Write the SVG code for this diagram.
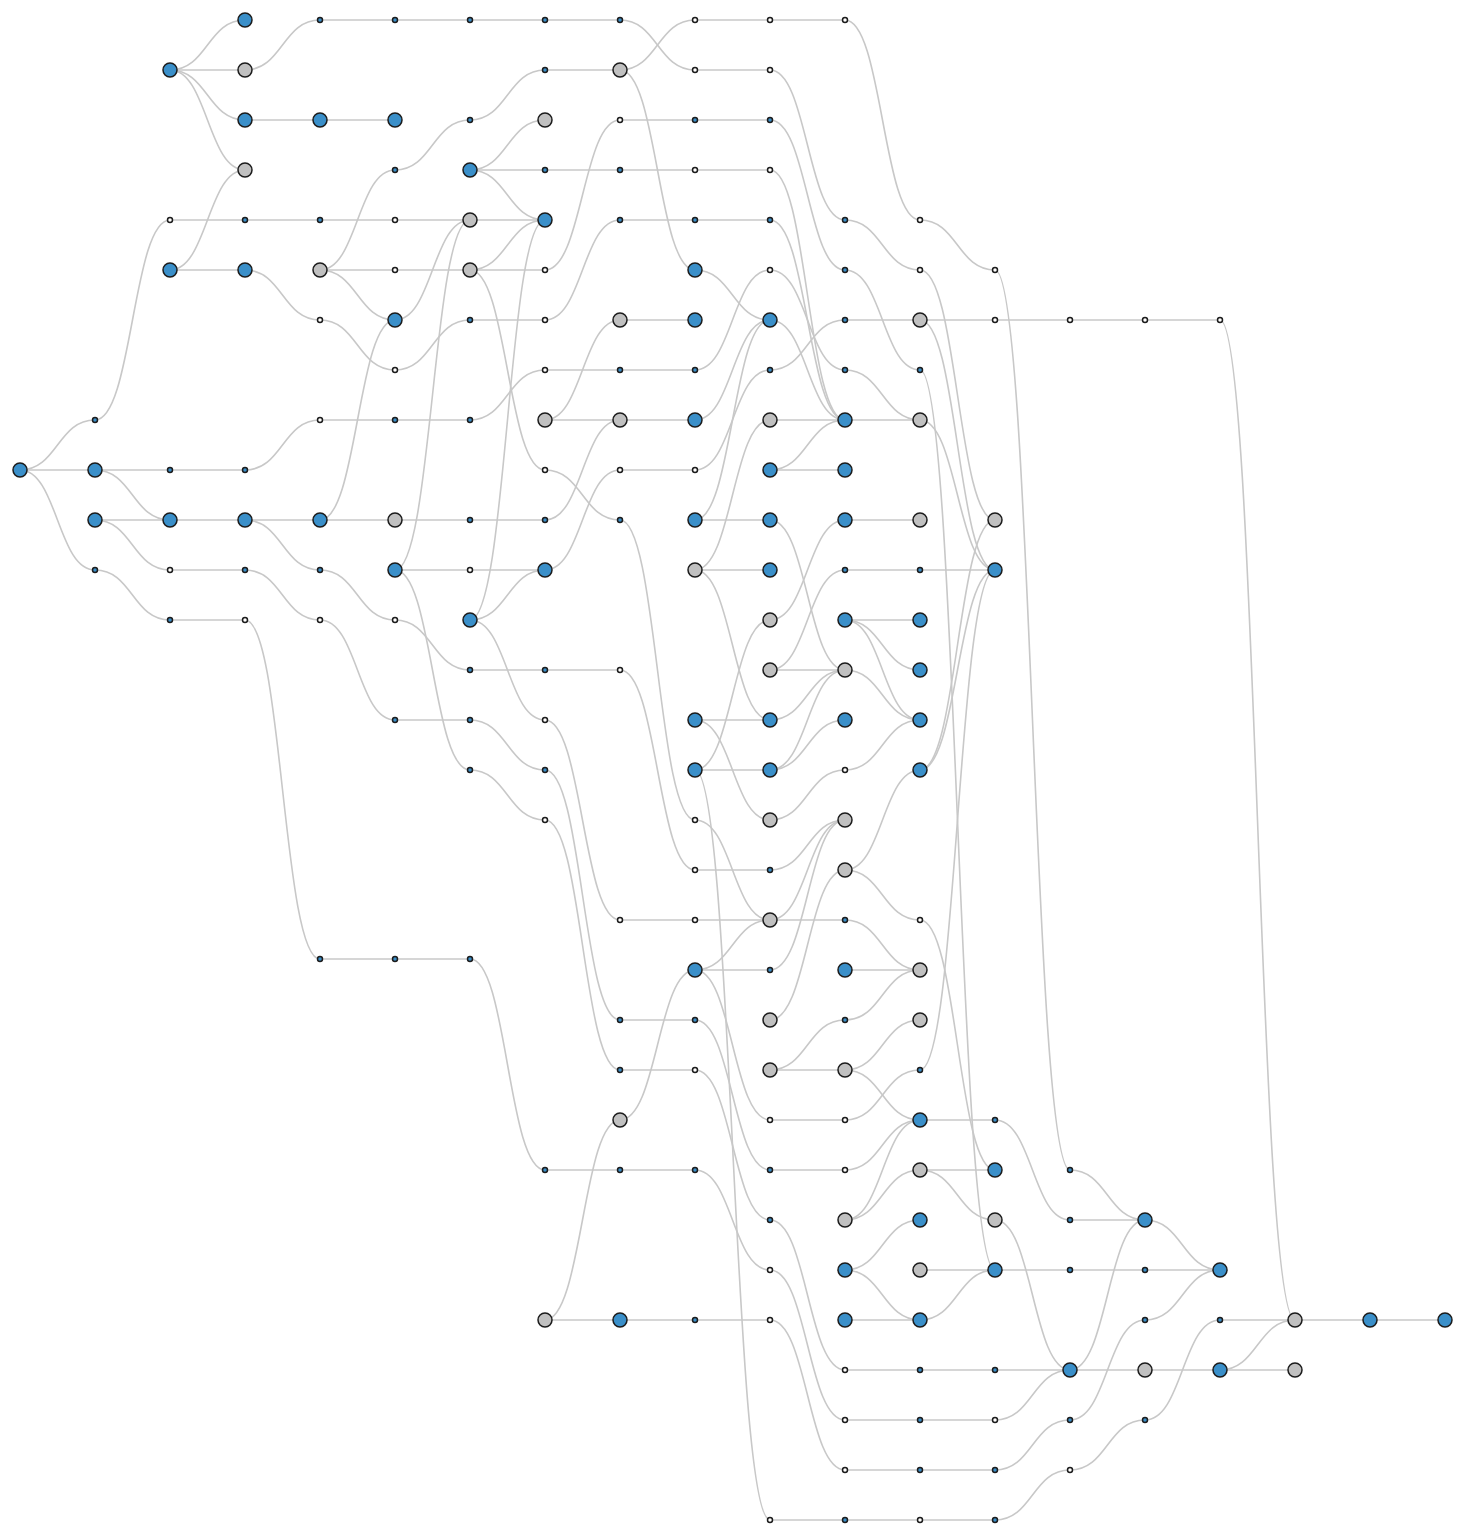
<svg xmlns="http://www.w3.org/2000/svg" width="1465" height="1540" viewBox="0 0 1465 1540">
<style>
.e path{fill:none;stroke:#c8c8c8;stroke-width:1.6}
.B{fill:#3a8fc9;stroke:#1c1c1c;stroke-width:1.5}
.G{fill:#c0c0c0;stroke:#1c1c1c;stroke-width:1.5}
.b{fill:#3a8fc9;stroke:#1c1c1c;stroke-width:1.5}
.w{fill:#ffffff;stroke:#1c1c1c;stroke-width:1.5}
</style>
<rect width="1465" height="1540" fill="#fff"/>
<g id="connectors" class="e">
<path d="M20 470C57.5 470 57.5 420 95 420"/>
<path d="M20 470H95"/>
<path d="M20 470C57.5 470 57.5 570 95 570"/>
<path d="M95 420C132.5 420 132.5 220 170 220"/>
<path d="M95 470H170"/>
<path d="M95 470C132.5 470 132.5 520 170 520"/>
<path d="M95 520H170"/>
<path d="M95 520C132.5 520 132.5 570 170 570"/>
<path d="M95 570C132.5 570 132.5 620 170 620"/>
<path d="M170 70C207.5 70 207.5 20 245 20"/>
<path d="M170 70H245"/>
<path d="M170 70C207.5 70 207.5 120 245 120"/>
<path d="M170 70C207.5 70 207.5 170 245 170"/>
<path d="M170 220H245"/>
<path d="M170 270C207.5 270 207.5 170 245 170"/>
<path d="M170 270H245"/>
<path d="M170 470H245"/>
<path d="M170 520H245"/>
<path d="M170 570H245"/>
<path d="M170 620H245"/>
<path d="M245 70C282.5 70 282.5 20 320 20"/>
<path d="M245 120H320"/>
<path d="M245 220H320"/>
<path d="M245 270C282.5 270 282.5 320 320 320"/>
<path d="M245 470C282.5 470 282.5 420 320 420"/>
<path d="M245 520H320"/>
<path d="M245 520C282.5 520 282.5 570 320 570"/>
<path d="M245 570C282.5 570 282.5 620 320 620"/>
<path d="M245 620C282.5 620 282.5 959 320 959"/>
<path d="M320 20H395"/>
<path d="M320 120H395"/>
<path d="M320 220H395"/>
<path d="M320 270C357.5 270 357.5 170 395 170"/>
<path d="M320 270H395"/>
<path d="M320 270C357.5 270 357.5 320 395 320"/>
<path d="M320 320C357.5 320 357.5 370 395 370"/>
<path d="M320 420H395"/>
<path d="M320 520C357.5 520 357.5 320 395 320"/>
<path d="M320 520H395"/>
<path d="M320 570C357.5 570 357.5 620 395 620"/>
<path d="M320 620C357.5 620 357.5 720 395 720"/>
<path d="M320 959H395"/>
<path d="M395 20H470"/>
<path d="M395 170C432.5 170 432.5 120 470 120"/>
<path d="M395 220H470"/>
<path d="M395 270H470"/>
<path d="M395 320C432.5 320 432.5 220 470 220"/>
<path d="M395 370C432.5 370 432.5 320 470 320"/>
<path d="M395 420H470"/>
<path d="M395 520H470"/>
<path d="M395 570C432.5 570 432.5 220 470 220"/>
<path d="M395 570H470"/>
<path d="M395 570C432.5 570 432.5 770 470 770"/>
<path d="M395 620C432.5 620 432.5 670 470 670"/>
<path d="M395 720H470"/>
<path d="M395 959H470"/>
<path d="M470 20H545"/>
<path d="M470 120C507.5 120 507.5 70 545 70"/>
<path d="M470 170C507.5 170 507.5 120 545 120"/>
<path d="M470 170H545"/>
<path d="M470 170C507.5 170 507.5 220 545 220"/>
<path d="M470 220H545"/>
<path d="M470 270C507.5 270 507.5 220 545 220"/>
<path d="M470 270H545"/>
<path d="M470 270C507.5 270 507.5 470 545 470"/>
<path d="M470 320H545"/>
<path d="M470 420C507.5 420 507.5 370 545 370"/>
<path d="M470 520H545"/>
<path d="M470 570H545"/>
<path d="M470 620C507.5 620 507.5 220 545 220"/>
<path d="M470 620C507.5 620 507.5 570 545 570"/>
<path d="M470 620C507.5 620 507.5 720 545 720"/>
<path d="M470 670H545"/>
<path d="M470 720C507.5 720 507.5 770 545 770"/>
<path d="M470 770C507.5 770 507.5 820 545 820"/>
<path d="M470 959C507.5 959 507.5 1170 545 1170"/>
<path d="M545 20H620"/>
<path d="M545 70H620"/>
<path d="M545 170H620"/>
<path d="M545 270C582.5 270 582.5 120 620 120"/>
<path d="M545 320C582.5 320 582.5 220 620 220"/>
<path d="M545 370H620"/>
<path d="M545 420C582.5 420 582.5 320 620 320"/>
<path d="M545 420H620"/>
<path d="M545 470C582.5 470 582.5 520 620 520"/>
<path d="M545 520C582.5 520 582.5 420 620 420"/>
<path d="M545 570C582.5 570 582.5 470 620 470"/>
<path d="M545 670H620"/>
<path d="M545 720C582.5 720 582.5 920 620 920"/>
<path d="M545 770C582.5 770 582.5 1020 620 1020"/>
<path d="M545 820C582.5 820 582.5 1070 620 1070"/>
<path d="M545 1170H620"/>
<path d="M545 1320C582.5 1320 582.5 1120 620 1120"/>
<path d="M545 1320H620"/>
<path d="M620 20C657.5 20 657.5 70 695 70"/>
<path d="M620 70C657.5 70 657.5 20 695 20"/>
<path d="M620 70C657.5 70 657.5 270 695 270"/>
<path d="M620 120H695"/>
<path d="M620 170H695"/>
<path d="M620 220H695"/>
<path d="M620 320H695"/>
<path d="M620 370H695"/>
<path d="M620 420H695"/>
<path d="M620 470H695"/>
<path d="M620 520C657.5 520 657.5 820 695 820"/>
<path d="M620 670C657.5 670 657.5 870 695 870"/>
<path d="M620 920H695"/>
<path d="M620 1020H695"/>
<path d="M620 1070H695"/>
<path d="M620 1120C657.5 1120 657.5 970 695 970"/>
<path d="M620 1170H695"/>
<path d="M620 1320H695"/>
<path d="M695 20H770"/>
<path d="M695 70H770"/>
<path d="M695 120H770"/>
<path d="M695 170H770"/>
<path d="M695 220H770"/>
<path d="M695 270C732.5 270 732.5 320 770 320"/>
<path d="M695 370C732.5 370 732.5 270 770 270"/>
<path d="M695 420C732.5 420 732.5 320 770 320"/>
<path d="M695 470C732.5 470 732.5 370 770 370"/>
<path d="M695 520C732.5 520 732.5 320 770 320"/>
<path d="M695 520H770"/>
<path d="M695 570C732.5 570 732.5 420 770 420"/>
<path d="M695 570H770"/>
<path d="M695 570C732.5 570 732.5 720 770 720"/>
<path d="M695 720H770"/>
<path d="M695 720C732.5 720 732.5 820 770 820"/>
<path d="M695 770C732.5 770 732.5 620 770 620"/>
<path d="M695 770H770"/>
<path d="M695 770C732.5 770 732.5 1520 770 1520"/>
<path d="M695 820C732.5 820 732.5 920 770 920"/>
<path d="M695 870H770"/>
<path d="M695 920H770"/>
<path d="M695 970C732.5 970 732.5 920 770 920"/>
<path d="M695 970H770"/>
<path d="M695 970C732.5 970 732.5 1120 770 1120"/>
<path d="M695 1020C732.5 1020 732.5 1170 770 1170"/>
<path d="M695 1070C732.5 1070 732.5 1220 770 1220"/>
<path d="M695 1170C732.5 1170 732.5 1270 770 1270"/>
<path d="M695 1320H770"/>
<path d="M770 20H845"/>
<path d="M770 70C807.5 70 807.5 220 845 220"/>
<path d="M770 120C807.5 120 807.5 270 845 270"/>
<path d="M770 170C807.5 170 807.5 420 845 420"/>
<path d="M770 220C807.5 220 807.5 420 845 420"/>
<path d="M770 270C807.5 270 807.5 370 845 370"/>
<path d="M770 320C807.5 320 807.5 420 845 420"/>
<path d="M770 370C807.5 370 807.5 320 845 320"/>
<path d="M770 420H845"/>
<path d="M770 470C807.5 470 807.5 420 845 420"/>
<path d="M770 470H845"/>
<path d="M770 520C807.5 520 807.5 670 845 670"/>
<path d="M770 620C807.5 620 807.5 520 845 520"/>
<path d="M770 670C807.5 670 807.5 570 845 570"/>
<path d="M770 670H845"/>
<path d="M770 720C807.5 720 807.5 670 845 670"/>
<path d="M770 770C807.5 770 807.5 670 845 670"/>
<path d="M770 770C807.5 770 807.5 720 845 720"/>
<path d="M770 820C807.5 820 807.5 770 845 770"/>
<path d="M770 870C807.5 870 807.5 820 845 820"/>
<path d="M770 920C807.5 920 807.5 820 845 820"/>
<path d="M770 920H845"/>
<path d="M770 970C807.5 970 807.5 820 845 820"/>
<path d="M770 1020C807.5 1020 807.5 870 845 870"/>
<path d="M770 1070C807.5 1070 807.5 1020 845 1020"/>
<path d="M770 1070H845"/>
<path d="M770 1120H845"/>
<path d="M770 1170H845"/>
<path d="M770 1220C807.5 1220 807.5 1370 845 1370"/>
<path d="M770 1270C807.5 1270 807.5 1420 845 1420"/>
<path d="M770 1320C807.5 1320 807.5 1470 845 1470"/>
<path d="M770 1520H845"/>
<path d="M845 20C882.5 20 882.5 220 920 220"/>
<path d="M845 220C882.5 220 882.5 270 920 270"/>
<path d="M845 270C882.5 270 882.5 370 920 370"/>
<path d="M845 320H920"/>
<path d="M845 370C882.5 370 882.5 420 920 420"/>
<path d="M845 420H920"/>
<path d="M845 520H920"/>
<path d="M845 570H920"/>
<path d="M845 620H920"/>
<path d="M845 620C882.5 620 882.5 670 920 670"/>
<path d="M845 620C882.5 620 882.5 720 920 720"/>
<path d="M845 670C882.5 670 882.5 720 920 720"/>
<path d="M845 770C882.5 770 882.5 720 920 720"/>
<path d="M845 870C882.5 870 882.5 770 920 770"/>
<path d="M845 870C882.5 870 882.5 920 920 920"/>
<path d="M845 920C882.5 920 882.5 970 920 970"/>
<path d="M845 970H920"/>
<path d="M845 1020C882.5 1020 882.5 970 920 970"/>
<path d="M845 1070C882.5 1070 882.5 1020 920 1020"/>
<path d="M845 1070C882.5 1070 882.5 1120 920 1120"/>
<path d="M845 1120C882.5 1120 882.5 1070 920 1070"/>
<path d="M845 1170C882.5 1170 882.5 1120 920 1120"/>
<path d="M845 1220C882.5 1220 882.5 1120 920 1120"/>
<path d="M845 1220C882.5 1220 882.5 1170 920 1170"/>
<path d="M845 1270C882.5 1270 882.5 1220 920 1220"/>
<path d="M845 1270C882.5 1270 882.5 1320 920 1320"/>
<path d="M845 1320H920"/>
<path d="M845 1370H920"/>
<path d="M845 1420H920"/>
<path d="M845 1470H920"/>
<path d="M845 1520H920"/>
<path d="M920 220C957.5 220 957.5 270 995 270"/>
<path d="M920 270C957.5 270 957.5 520 995 520"/>
<path d="M920 320H995"/>
<path d="M920 320C957.5 320 957.5 570 995 570"/>
<path d="M920 370C957.5 370 957.5 1270 995 1270"/>
<path d="M920 420C957.5 420 957.5 570 995 570"/>
<path d="M920 570H995"/>
<path d="M920 770C957.5 770 957.5 520 995 520"/>
<path d="M920 770C957.5 770 957.5 570 995 570"/>
<path d="M920 920C957.5 920 957.5 1170 995 1170"/>
<path d="M920 1070C957.5 1070 957.5 570 995 570"/>
<path d="M920 1120H995"/>
<path d="M920 1170H995"/>
<path d="M920 1170C957.5 1170 957.5 1220 995 1220"/>
<path d="M920 1270H995"/>
<path d="M920 1320C957.5 1320 957.5 1270 995 1270"/>
<path d="M920 1370H995"/>
<path d="M920 1420H995"/>
<path d="M920 1470H995"/>
<path d="M920 1520H995"/>
<path d="M995 270C1032.5 270 1032.5 1170 1070 1170"/>
<path d="M995 320H1070"/>
<path d="M995 1120C1032.5 1120 1032.5 1220 1070 1220"/>
<path d="M995 1220C1032.5 1220 1032.5 1370 1070 1370"/>
<path d="M995 1270H1070"/>
<path d="M995 1370H1070"/>
<path d="M995 1420C1032.5 1420 1032.5 1370 1070 1370"/>
<path d="M995 1470C1032.5 1470 1032.5 1420 1070 1420"/>
<path d="M995 1520C1032.5 1520 1032.5 1470 1070 1470"/>
<path d="M1070 320H1145"/>
<path d="M1070 1170C1107.5 1170 1107.5 1220 1145 1220"/>
<path d="M1070 1220H1145"/>
<path d="M1070 1270H1145"/>
<path d="M1070 1370C1107.5 1370 1107.5 1220 1145 1220"/>
<path d="M1070 1370H1145"/>
<path d="M1070 1420C1107.5 1420 1107.5 1320 1145 1320"/>
<path d="M1070 1470C1107.5 1470 1107.5 1420 1145 1420"/>
<path d="M1145 320H1220"/>
<path d="M1145 1220C1182.5 1220 1182.5 1270 1220 1270"/>
<path d="M1145 1270H1220"/>
<path d="M1145 1320C1182.5 1320 1182.5 1270 1220 1270"/>
<path d="M1145 1370H1220"/>
<path d="M1145 1420C1182.5 1420 1182.5 1320 1220 1320"/>
<path d="M1220 320C1257.5 320 1257.5 1320 1295 1320"/>
<path d="M1220 1320H1295"/>
<path d="M1220 1370C1257.5 1370 1257.5 1320 1295 1320"/>
<path d="M1220 1370H1295"/>
<path d="M1295 1320H1370"/>
<path d="M1370 1320H1445"/>
</g>
<g id="nodes">
<g id="n20-470"><circle class="B" cx="20" cy="470" r="7"/></g>
<g id="n95-420"><circle class="b" cx="95" cy="420" r="2.5"/></g>
<g id="n95-470"><circle class="B" cx="95" cy="470" r="7"/></g>
<g id="n95-520"><circle class="B" cx="95" cy="520" r="7"/></g>
<g id="n95-570"><circle class="b" cx="95" cy="570" r="2.5"/></g>
<g id="n170-70"><circle class="B" cx="170" cy="70" r="7"/></g>
<g id="n170-220"><circle class="w" cx="170" cy="220" r="2.5"/></g>
<g id="n170-270"><circle class="B" cx="170" cy="270" r="7"/></g>
<g id="n170-470"><circle class="b" cx="170" cy="470" r="2.5"/></g>
<g id="n170-520"><circle class="B" cx="170" cy="520" r="7"/></g>
<g id="n170-570"><circle class="w" cx="170" cy="570" r="2.5"/></g>
<g id="n170-620"><circle class="b" cx="170" cy="620" r="2.5"/></g>
<g id="n245-20"><circle class="B" cx="245" cy="20" r="7"/></g>
<g id="n245-70"><circle class="G" cx="245" cy="70" r="7"/></g>
<g id="n245-120"><circle class="B" cx="245" cy="120" r="7"/></g>
<g id="n245-170"><circle class="G" cx="245" cy="170" r="7"/></g>
<g id="n245-220"><circle class="b" cx="245" cy="220" r="2.5"/></g>
<g id="n245-270"><circle class="B" cx="245" cy="270" r="7"/></g>
<g id="n245-470"><circle class="b" cx="245" cy="470" r="2.5"/></g>
<g id="n245-520"><circle class="B" cx="245" cy="520" r="7"/></g>
<g id="n245-570"><circle class="b" cx="245" cy="570" r="2.5"/></g>
<g id="n245-620"><circle class="w" cx="245" cy="620" r="2.5"/></g>
<g id="n320-20"><circle class="b" cx="320" cy="20" r="2.5"/></g>
<g id="n320-120"><circle class="B" cx="320" cy="120" r="7"/></g>
<g id="n320-220"><circle class="b" cx="320" cy="220" r="2.5"/></g>
<g id="n320-270"><circle class="G" cx="320" cy="270" r="7"/></g>
<g id="n320-320"><circle class="w" cx="320" cy="320" r="2.5"/></g>
<g id="n320-420"><circle class="w" cx="320" cy="420" r="2.5"/></g>
<g id="n320-520"><circle class="B" cx="320" cy="520" r="7"/></g>
<g id="n320-570"><circle class="b" cx="320" cy="570" r="2.5"/></g>
<g id="n320-620"><circle class="w" cx="320" cy="620" r="2.5"/></g>
<g id="n320-959"><circle class="b" cx="320" cy="959" r="2.5"/></g>
<g id="n395-20"><circle class="b" cx="395" cy="20" r="2.5"/></g>
<g id="n395-120"><circle class="B" cx="395" cy="120" r="7"/></g>
<g id="n395-170"><circle class="b" cx="395" cy="170" r="2.5"/></g>
<g id="n395-220"><circle class="w" cx="395" cy="220" r="2.5"/></g>
<g id="n395-270"><circle class="w" cx="395" cy="270" r="2.5"/></g>
<g id="n395-320"><circle class="B" cx="395" cy="320" r="7"/></g>
<g id="n395-370"><circle class="w" cx="395" cy="370" r="2.5"/></g>
<g id="n395-420"><circle class="b" cx="395" cy="420" r="2.5"/></g>
<g id="n395-520"><circle class="G" cx="395" cy="520" r="7"/></g>
<g id="n395-570"><circle class="B" cx="395" cy="570" r="7"/></g>
<g id="n395-620"><circle class="w" cx="395" cy="620" r="2.5"/></g>
<g id="n395-720"><circle class="b" cx="395" cy="720" r="2.5"/></g>
<g id="n395-959"><circle class="b" cx="395" cy="959" r="2.5"/></g>
<g id="n470-20"><circle class="b" cx="470" cy="20" r="2.5"/></g>
<g id="n470-120"><circle class="b" cx="470" cy="120" r="2.5"/></g>
<g id="n470-170"><circle class="B" cx="470" cy="170" r="7"/></g>
<g id="n470-220"><circle class="G" cx="470" cy="220" r="7"/></g>
<g id="n470-270"><circle class="G" cx="470" cy="270" r="7"/></g>
<g id="n470-320"><circle class="b" cx="470" cy="320" r="2.5"/></g>
<g id="n470-420"><circle class="b" cx="470" cy="420" r="2.5"/></g>
<g id="n470-520"><circle class="b" cx="470" cy="520" r="2.5"/></g>
<g id="n470-570"><circle class="w" cx="470" cy="570" r="2.5"/></g>
<g id="n470-620"><circle class="B" cx="470" cy="620" r="7"/></g>
<g id="n470-670"><circle class="b" cx="470" cy="670" r="2.5"/></g>
<g id="n470-720"><circle class="b" cx="470" cy="720" r="2.5"/></g>
<g id="n470-770"><circle class="b" cx="470" cy="770" r="2.5"/></g>
<g id="n470-959"><circle class="b" cx="470" cy="959" r="2.5"/></g>
<g id="n545-20"><circle class="b" cx="545" cy="20" r="2.5"/></g>
<g id="n545-70"><circle class="b" cx="545" cy="70" r="2.5"/></g>
<g id="n545-120"><circle class="G" cx="545" cy="120" r="7"/></g>
<g id="n545-170"><circle class="b" cx="545" cy="170" r="2.5"/></g>
<g id="n545-220"><circle class="B" cx="545" cy="220" r="7"/></g>
<g id="n545-270"><circle class="w" cx="545" cy="270" r="2.5"/></g>
<g id="n545-320"><circle class="w" cx="545" cy="320" r="2.5"/></g>
<g id="n545-370"><circle class="w" cx="545" cy="370" r="2.5"/></g>
<g id="n545-420"><circle class="G" cx="545" cy="420" r="7"/></g>
<g id="n545-470"><circle class="w" cx="545" cy="470" r="2.5"/></g>
<g id="n545-520"><circle class="b" cx="545" cy="520" r="2.5"/></g>
<g id="n545-570"><circle class="B" cx="545" cy="570" r="7"/></g>
<g id="n545-670"><circle class="b" cx="545" cy="670" r="2.5"/></g>
<g id="n545-720"><circle class="w" cx="545" cy="720" r="2.5"/></g>
<g id="n545-770"><circle class="b" cx="545" cy="770" r="2.5"/></g>
<g id="n545-820"><circle class="w" cx="545" cy="820" r="2.5"/></g>
<g id="n545-1170"><circle class="b" cx="545" cy="1170" r="2.5"/></g>
<g id="n545-1320"><circle class="G" cx="545" cy="1320" r="7"/></g>
<g id="n620-20"><circle class="b" cx="620" cy="20" r="2.5"/></g>
<g id="n620-70"><circle class="G" cx="620" cy="70" r="7"/></g>
<g id="n620-120"><circle class="w" cx="620" cy="120" r="2.5"/></g>
<g id="n620-170"><circle class="b" cx="620" cy="170" r="2.5"/></g>
<g id="n620-220"><circle class="b" cx="620" cy="220" r="2.5"/></g>
<g id="n620-320"><circle class="G" cx="620" cy="320" r="7"/></g>
<g id="n620-370"><circle class="b" cx="620" cy="370" r="2.5"/></g>
<g id="n620-420"><circle class="G" cx="620" cy="420" r="7"/></g>
<g id="n620-470"><circle class="w" cx="620" cy="470" r="2.5"/></g>
<g id="n620-520"><circle class="b" cx="620" cy="520" r="2.5"/></g>
<g id="n620-670"><circle class="w" cx="620" cy="670" r="2.5"/></g>
<g id="n620-920"><circle class="w" cx="620" cy="920" r="2.5"/></g>
<g id="n620-1020"><circle class="b" cx="620" cy="1020" r="2.5"/></g>
<g id="n620-1070"><circle class="b" cx="620" cy="1070" r="2.5"/></g>
<g id="n620-1120"><circle class="G" cx="620" cy="1120" r="7"/></g>
<g id="n620-1170"><circle class="b" cx="620" cy="1170" r="2.5"/></g>
<g id="n620-1320"><circle class="B" cx="620" cy="1320" r="7"/></g>
<g id="n695-20"><circle class="w" cx="695" cy="20" r="2.5"/></g>
<g id="n695-70"><circle class="w" cx="695" cy="70" r="2.5"/></g>
<g id="n695-120"><circle class="b" cx="695" cy="120" r="2.5"/></g>
<g id="n695-170"><circle class="w" cx="695" cy="170" r="2.5"/></g>
<g id="n695-220"><circle class="b" cx="695" cy="220" r="2.5"/></g>
<g id="n695-270"><circle class="B" cx="695" cy="270" r="7"/></g>
<g id="n695-320"><circle class="B" cx="695" cy="320" r="7"/></g>
<g id="n695-370"><circle class="b" cx="695" cy="370" r="2.5"/></g>
<g id="n695-420"><circle class="B" cx="695" cy="420" r="7"/></g>
<g id="n695-470"><circle class="w" cx="695" cy="470" r="2.5"/></g>
<g id="n695-520"><circle class="B" cx="695" cy="520" r="7"/></g>
<g id="n695-570"><circle class="G" cx="695" cy="570" r="7"/></g>
<g id="n695-720"><circle class="B" cx="695" cy="720" r="7"/></g>
<g id="n695-770"><circle class="B" cx="695" cy="770" r="7"/></g>
<g id="n695-820"><circle class="w" cx="695" cy="820" r="2.5"/></g>
<g id="n695-870"><circle class="w" cx="695" cy="870" r="2.5"/></g>
<g id="n695-920"><circle class="w" cx="695" cy="920" r="2.5"/></g>
<g id="n695-970"><circle class="B" cx="695" cy="970" r="7"/></g>
<g id="n695-1020"><circle class="b" cx="695" cy="1020" r="2.5"/></g>
<g id="n695-1070"><circle class="w" cx="695" cy="1070" r="2.5"/></g>
<g id="n695-1170"><circle class="b" cx="695" cy="1170" r="2.5"/></g>
<g id="n695-1320"><circle class="b" cx="695" cy="1320" r="2.5"/></g>
<g id="n770-20"><circle class="w" cx="770" cy="20" r="2.5"/></g>
<g id="n770-70"><circle class="w" cx="770" cy="70" r="2.5"/></g>
<g id="n770-120"><circle class="b" cx="770" cy="120" r="2.5"/></g>
<g id="n770-170"><circle class="w" cx="770" cy="170" r="2.5"/></g>
<g id="n770-220"><circle class="b" cx="770" cy="220" r="2.5"/></g>
<g id="n770-270"><circle class="w" cx="770" cy="270" r="2.5"/></g>
<g id="n770-320"><circle class="B" cx="770" cy="320" r="7"/></g>
<g id="n770-370"><circle class="b" cx="770" cy="370" r="2.5"/></g>
<g id="n770-420"><circle class="G" cx="770" cy="420" r="7"/></g>
<g id="n770-470"><circle class="B" cx="770" cy="470" r="7"/></g>
<g id="n770-520"><circle class="B" cx="770" cy="520" r="7"/></g>
<g id="n770-570"><circle class="B" cx="770" cy="570" r="7"/></g>
<g id="n770-620"><circle class="G" cx="770" cy="620" r="7"/></g>
<g id="n770-670"><circle class="G" cx="770" cy="670" r="7"/></g>
<g id="n770-720"><circle class="B" cx="770" cy="720" r="7"/></g>
<g id="n770-770"><circle class="B" cx="770" cy="770" r="7"/></g>
<g id="n770-820"><circle class="G" cx="770" cy="820" r="7"/></g>
<g id="n770-870"><circle class="b" cx="770" cy="870" r="2.5"/></g>
<g id="n770-920"><circle class="G" cx="770" cy="920" r="7"/></g>
<g id="n770-970"><circle class="b" cx="770" cy="970" r="2.5"/></g>
<g id="n770-1020"><circle class="G" cx="770" cy="1020" r="7"/></g>
<g id="n770-1070"><circle class="G" cx="770" cy="1070" r="7"/></g>
<g id="n770-1120"><circle class="w" cx="770" cy="1120" r="2.5"/></g>
<g id="n770-1170"><circle class="b" cx="770" cy="1170" r="2.5"/></g>
<g id="n770-1220"><circle class="b" cx="770" cy="1220" r="2.5"/></g>
<g id="n770-1270"><circle class="w" cx="770" cy="1270" r="2.5"/></g>
<g id="n770-1320"><circle class="w" cx="770" cy="1320" r="2.5"/></g>
<g id="n770-1520"><circle class="w" cx="770" cy="1520" r="2.5"/></g>
<g id="n845-20"><circle class="w" cx="845" cy="20" r="2.5"/></g>
<g id="n845-220"><circle class="b" cx="845" cy="220" r="2.5"/></g>
<g id="n845-270"><circle class="b" cx="845" cy="270" r="2.5"/></g>
<g id="n845-320"><circle class="b" cx="845" cy="320" r="2.5"/></g>
<g id="n845-370"><circle class="b" cx="845" cy="370" r="2.5"/></g>
<g id="n845-420"><circle class="B" cx="845" cy="420" r="7"/></g>
<g id="n845-470"><circle class="B" cx="845" cy="470" r="7"/></g>
<g id="n845-520"><circle class="B" cx="845" cy="520" r="7"/></g>
<g id="n845-570"><circle class="b" cx="845" cy="570" r="2.5"/></g>
<g id="n845-620"><circle class="B" cx="845" cy="620" r="7"/></g>
<g id="n845-670"><circle class="G" cx="845" cy="670" r="7"/></g>
<g id="n845-720"><circle class="B" cx="845" cy="720" r="7"/></g>
<g id="n845-770"><circle class="w" cx="845" cy="770" r="2.5"/></g>
<g id="n845-820"><circle class="G" cx="845" cy="820" r="7"/></g>
<g id="n845-870"><circle class="G" cx="845" cy="870" r="7"/></g>
<g id="n845-920"><circle class="b" cx="845" cy="920" r="2.5"/></g>
<g id="n845-970"><circle class="B" cx="845" cy="970" r="7"/></g>
<g id="n845-1020"><circle class="b" cx="845" cy="1020" r="2.5"/></g>
<g id="n845-1070"><circle class="G" cx="845" cy="1070" r="7"/></g>
<g id="n845-1120"><circle class="w" cx="845" cy="1120" r="2.5"/></g>
<g id="n845-1170"><circle class="w" cx="845" cy="1170" r="2.5"/></g>
<g id="n845-1220"><circle class="G" cx="845" cy="1220" r="7"/></g>
<g id="n845-1270"><circle class="B" cx="845" cy="1270" r="7"/></g>
<g id="n845-1320"><circle class="B" cx="845" cy="1320" r="7"/></g>
<g id="n845-1370"><circle class="w" cx="845" cy="1370" r="2.5"/></g>
<g id="n845-1420"><circle class="w" cx="845" cy="1420" r="2.5"/></g>
<g id="n845-1470"><circle class="w" cx="845" cy="1470" r="2.5"/></g>
<g id="n845-1520"><circle class="b" cx="845" cy="1520" r="2.5"/></g>
<g id="n920-220"><circle class="w" cx="920" cy="220" r="2.5"/></g>
<g id="n920-270"><circle class="w" cx="920" cy="270" r="2.5"/></g>
<g id="n920-320"><circle class="G" cx="920" cy="320" r="7"/></g>
<g id="n920-370"><circle class="b" cx="920" cy="370" r="2.5"/></g>
<g id="n920-420"><circle class="G" cx="920" cy="420" r="7"/></g>
<g id="n920-520"><circle class="G" cx="920" cy="520" r="7"/></g>
<g id="n920-570"><circle class="b" cx="920" cy="570" r="2.5"/></g>
<g id="n920-620"><circle class="B" cx="920" cy="620" r="7"/></g>
<g id="n920-670"><circle class="B" cx="920" cy="670" r="7"/></g>
<g id="n920-720"><circle class="B" cx="920" cy="720" r="7"/></g>
<g id="n920-770"><circle class="B" cx="920" cy="770" r="7"/></g>
<g id="n920-920"><circle class="w" cx="920" cy="920" r="2.5"/></g>
<g id="n920-970"><circle class="G" cx="920" cy="970" r="7"/></g>
<g id="n920-1020"><circle class="G" cx="920" cy="1020" r="7"/></g>
<g id="n920-1070"><circle class="b" cx="920" cy="1070" r="2.5"/></g>
<g id="n920-1120"><circle class="B" cx="920" cy="1120" r="7"/></g>
<g id="n920-1170"><circle class="G" cx="920" cy="1170" r="7"/></g>
<g id="n920-1220"><circle class="B" cx="920" cy="1220" r="7"/></g>
<g id="n920-1270"><circle class="G" cx="920" cy="1270" r="7"/></g>
<g id="n920-1320"><circle class="B" cx="920" cy="1320" r="7"/></g>
<g id="n920-1370"><circle class="b" cx="920" cy="1370" r="2.5"/></g>
<g id="n920-1420"><circle class="b" cx="920" cy="1420" r="2.5"/></g>
<g id="n920-1470"><circle class="b" cx="920" cy="1470" r="2.5"/></g>
<g id="n920-1520"><circle class="w" cx="920" cy="1520" r="2.5"/></g>
<g id="n995-270"><circle class="w" cx="995" cy="270" r="2.5"/></g>
<g id="n995-320"><circle class="w" cx="995" cy="320" r="2.5"/></g>
<g id="n995-520"><circle class="G" cx="995" cy="520" r="7"/></g>
<g id="n995-570"><circle class="B" cx="995" cy="570" r="7"/></g>
<g id="n995-1120"><circle class="b" cx="995" cy="1120" r="2.5"/></g>
<g id="n995-1170"><circle class="B" cx="995" cy="1170" r="7"/></g>
<g id="n995-1220"><circle class="G" cx="995" cy="1220" r="7"/></g>
<g id="n995-1270"><circle class="B" cx="995" cy="1270" r="7"/></g>
<g id="n995-1370"><circle class="b" cx="995" cy="1370" r="2.5"/></g>
<g id="n995-1420"><circle class="w" cx="995" cy="1420" r="2.5"/></g>
<g id="n995-1470"><circle class="b" cx="995" cy="1470" r="2.5"/></g>
<g id="n995-1520"><circle class="b" cx="995" cy="1520" r="2.5"/></g>
<g id="n1070-320"><circle class="w" cx="1070" cy="320" r="2.5"/></g>
<g id="n1070-1170"><circle class="b" cx="1070" cy="1170" r="2.5"/></g>
<g id="n1070-1220"><circle class="b" cx="1070" cy="1220" r="2.5"/></g>
<g id="n1070-1270"><circle class="b" cx="1070" cy="1270" r="2.5"/></g>
<g id="n1070-1370"><circle class="B" cx="1070" cy="1370" r="7"/></g>
<g id="n1070-1420"><circle class="b" cx="1070" cy="1420" r="2.5"/></g>
<g id="n1070-1470"><circle class="w" cx="1070" cy="1470" r="2.5"/></g>
<g id="n1145-320"><circle class="w" cx="1145" cy="320" r="2.5"/></g>
<g id="n1145-1220"><circle class="B" cx="1145" cy="1220" r="7"/></g>
<g id="n1145-1270"><circle class="b" cx="1145" cy="1270" r="2.5"/></g>
<g id="n1145-1320"><circle class="b" cx="1145" cy="1320" r="2.5"/></g>
<g id="n1145-1370"><circle class="G" cx="1145" cy="1370" r="7"/></g>
<g id="n1145-1420"><circle class="b" cx="1145" cy="1420" r="2.5"/></g>
<g id="n1220-320"><circle class="w" cx="1220" cy="320" r="2.5"/></g>
<g id="n1220-1270"><circle class="B" cx="1220" cy="1270" r="7"/></g>
<g id="n1220-1320"><circle class="b" cx="1220" cy="1320" r="2.5"/></g>
<g id="n1220-1370"><circle class="B" cx="1220" cy="1370" r="7"/></g>
<g id="n1295-1320"><circle class="G" cx="1295" cy="1320" r="7"/></g>
<g id="n1295-1370"><circle class="G" cx="1295" cy="1370" r="7"/></g>
<g id="n1370-1320"><circle class="B" cx="1370" cy="1320" r="7"/></g>
<g id="n1445-1320"><circle class="B" cx="1445" cy="1320" r="7"/></g>
</g>
</svg>
